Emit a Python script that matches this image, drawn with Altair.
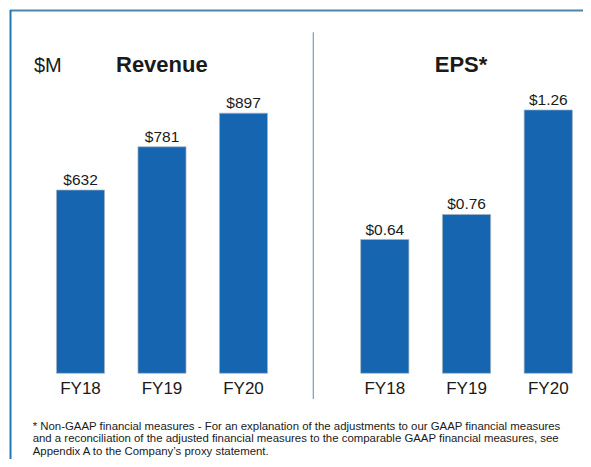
import altair as alt
import pandas as pd

years = ["FY18", "FY19", "FY20"]
revenue = [632, 781, 897]
eps = [0.64, 0.76, 1.26]
titles = ["$M", "Revenue", "EPS*"]
footnote_lines = [
    " * Non-GAAP  financial measures - For an explanation of the adjustments to our GAAP  financial measures",
    "and a reconciliation of the adjusted financial measures to the comparable GAAP  financial measures, see",
    "Appendix  A to the Company\u2019s proxy statement.",
]

rev_df = pd.DataFrame({"year": years, "value": revenue})
eps_df = pd.DataFrame({"year": years, "value": eps})

FONT = "Liberation Sans"
BLUE = "#1565b0"
TXT = "#1a1a1a"


def panel(df, xrange, yrange, ydomain, fmt):
    base = alt.Chart(df).encode(
        x=alt.X("year:N", sort=years, axis=None,
                scale=alt.Scale(range=xrange, paddingInner=0.41, paddingOuter=0.205)),
    )
    y = alt.Y("value:Q", axis=None,
              scale=alt.Scale(domain=ydomain, range=yrange, nice=False, zero=True))
    bars = base.mark_bar(color=BLUE, stroke="#a9b4c0", strokeWidth=0.7).encode(y=y)
    vals = base.mark_text(font=FONT, fontSize=15.5, color=TXT, baseline="alphabetic", dy=-5).encode(
        y=y, text=alt.Text("value:Q", format=fmt))
    cats = base.mark_text(font=FONT, fontSize=17, color=TXT, baseline="alphabetic").encode(
        y=alt.value(386), text="year:N")
    return alt.layer(bars, vals, cats)


rev_panel = panel(rev_df, [31.75, 276.25], [365.3, 75.3], [0, 1000], "$.0f")
eps_panel = panel(eps_df, [335.9, 581.15], [365.3, 156.3], [0, 1], "$.2f")


def title(text, x, y, bold, align, size):
    return alt.Chart(pd.DataFrame({"t": [text]})).mark_text(
        font=FONT, fontSize=size, fontWeight="bold" if bold else "normal",
        color=TXT, align=align, baseline="alphabetic"
    ).encode(x=alt.value(x), y=alt.value(y), text="t:N")


t_m = title(titles[0], 26, 63.5, False, "left", 20)
t_rev = title(titles[1], 108, 63.5, True, "left", 22)
t_eps = title(titles[2], 453, 63.5, True, "center", 22)

one = pd.DataFrame({"a": [0]})
divider = alt.Chart(one).mark_rule(color="#7f9cb0", strokeWidth=1.2).encode(
    x=alt.value(305.3), y=alt.value(24.3), y2=alt.value(391))
border_top = alt.Chart(one).mark_rule(color="#4a86aa", strokeWidth=2).encode(
    x=alt.value(2), x2=alt.value(575), y=alt.value(2.5))
border_left = alt.Chart(one).mark_rule(color="#1f78b4", strokeWidth=2).encode(
    x=alt.value(2.5), y=alt.value(2), y2=alt.value(451))

foot = alt.Chart(one).mark_text(
    font=FONT, fontSize=11.4, color=TXT, align="left", baseline="alphabetic", lineHeight=12.3
).encode(x=alt.value(24.7), y=alt.value(422), text=alt.value(footnote_lines))

chart = alt.layer(
    rev_panel, eps_panel, t_m, t_rev, t_eps, divider, border_top, border_left, foot
).resolve_scale(x="independent", y="independent").properties(
    width=575, height=451, padding=0, autosize=alt.AutoSizeParams(type="none"),
    background="white"
).configure_view(stroke=None)

chart.save("out.html", embed_options={"renderer": "svg", "actions": False})
